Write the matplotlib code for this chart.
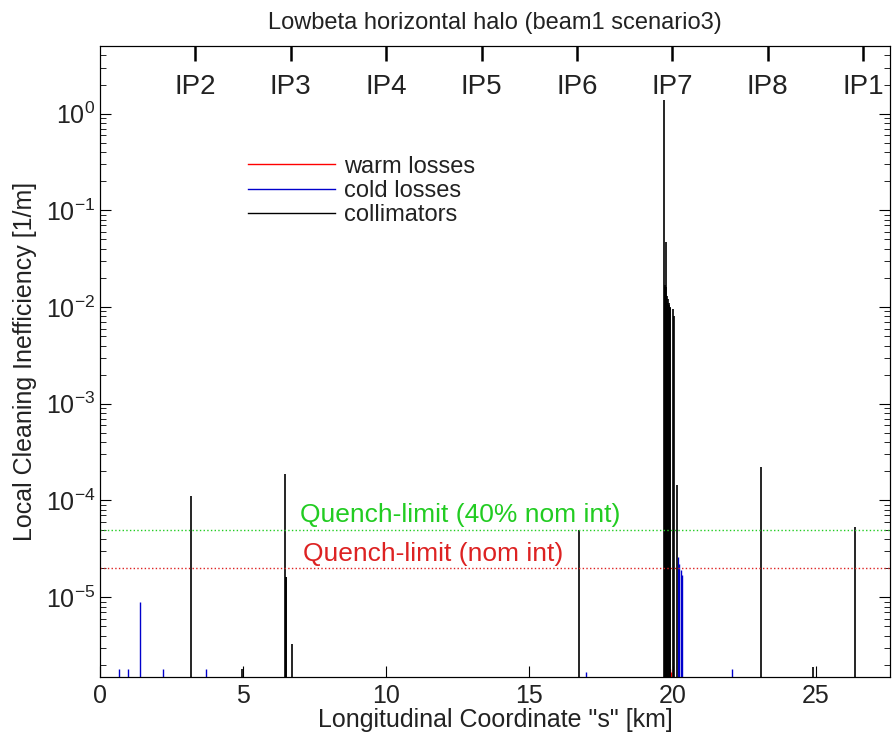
import matplotlib
matplotlib.use('Agg')
import matplotlib.pyplot as plt
from matplotlib.lines import Line2D
import matplotlib.transforms as mtrans

plt.rcParams['font.family'] = ['Liberation Sans', 'DejaVu Sans']
plt.rcParams['axes.unicode_minus'] = False

# loss positions [km] and local inefficiency [1/m]
coll_s = [3.18, 4.97, 6.45, 6.49, 6.51, 6.70, 16.72,
          19.70, 19.72, 19.74, 19.76, 19.78, 19.80, 19.82, 19.84, 19.86, 19.88, 19.90, 19.92,
          20.02, 20.05, 20.15, 23.10, 24.90, 26.36]
coll_v = [1.1e-4, 1.8e-6, 1.9e-4, 1.6e-5, 1.6e-5, 3.3e-6, 5.0e-5,
          1.4, 0.016, 0.017, 0.016, 0.047, 0.013, 0.011, 0.012, 0.0105, 0.011, 0.010, 0.0098,
          0.0095, 0.008, 1.45e-4, 2.2e-4, 1.9e-6, 5.3e-5]
cold_s = [0.66, 0.98, 1.40, 2.20, 3.70, 16.96, 20.20, 20.24, 20.28, 20.32, 22.06]
cold_v = [1.8e-6, 1.8e-6, 8.9e-6, 1.8e-6, 1.8e-6, 1.7e-6, 2.6e-5, 2.2e-5, 1.9e-5, 1.7e-5, 1.8e-6]
warm_s = [19.90, 19.96]
warm_v = [1.8e-6, 1.7e-6]

ip_names = ['IP2', 'IP3', 'IP4', 'IP5', 'IP6', 'IP7', 'IP8', 'IP1']
ip_pos = [3.332, 6.664, 9.997, 13.329, 16.661, 19.994, 23.315, 26.659]

quench_40 = 5e-5
quench_nom = 2e-5

ymin, ymax = 1.5e-6, 5.0
xmax = 27.6

fig = plt.figure(figsize=(8.92, 7.43), dpi=100)
ax = fig.add_axes([0.112, 0.089, 0.886, 0.849])
ax.set_yscale('log')

ax.vlines(warm_s, 1e-9, warm_v, color='red', lw=1.0)
ax.vlines(cold_s, 1e-9, cold_v, color='#0000cc', lw=1.0)
ax.vlines(coll_s, 1e-9, coll_v, color='black', lw=1.2)

ax.axhline(quench_40, color='#22cc22', ls=':', lw=1.0)
ax.axhline(quench_nom, color='#dd2222', ls=':', lw=1.0)
ax.text(7.0, quench_40 * 1.06, 'Quench-limit (40% nom int)', color='#22cc22', fontsize=19,
        va='bottom')
ax.text(7.1, quench_nom * 1.06, 'Quench-limit (nom int)', color='#dd2222', fontsize=19,
        va='bottom')

ax.set_xlim(0, xmax)
ax.set_ylim(ymin, ymax)
ax.set_xticks([0, 5, 10, 15, 20, 25])
ax.tick_params(which='both', direction='in', top=True, right=True, labelsize=18,
               labelcolor='#222222')
ax.tick_params(which='major', length=8)
ax.tick_params(which='minor', length=4)
ax.tick_params(axis='x', pad=5)
ax.set_xlabel('Longitudinal Coordinate "s" [km]', fontsize=18, labelpad=0, color='#222222')
ax.set_ylabel('Local Cleaning Inefficiency [1/m]', fontsize=18, labelpad=6, color='#222222')
ax.set_title('Lowbeta horizontal halo (beam1 scenario3)', fontsize=17, pad=12, color='#222222')

# IP markers on the top axis
ax2 = ax.twiny()
ax2.set_xlim(0, xmax)
ax2.set_xticks(ip_pos)
ax2.set_xticklabels([])
ax2.tick_params(direction='in', length=11, width=1.8)
trans = mtrans.blended_transform_factory(ax.transData, ax.transAxes)
for name, p in zip(ip_names, ip_pos):
    ax.text(p, 0.935, name, transform=trans, ha='center', va='center', fontsize=20,
            color='#222222')

handles = [Line2D([], [], color='red', lw=1.0),
           Line2D([], [], color='#0000cc', lw=1.0),
           Line2D([], [], color='black', lw=1.0)]
leg = ax.legend(handles, ['warm losses', 'cold losses', 'collimators'], loc='upper left',
                bbox_to_anchor=(0.16, 0.86), frameon=False, fontsize=17, handlelength=3.7,
                labelspacing=0.1, handletextpad=0.4)
for t in leg.get_texts():
    t.set_color('#222222')

fig.savefig('out.png', dpi=100)
